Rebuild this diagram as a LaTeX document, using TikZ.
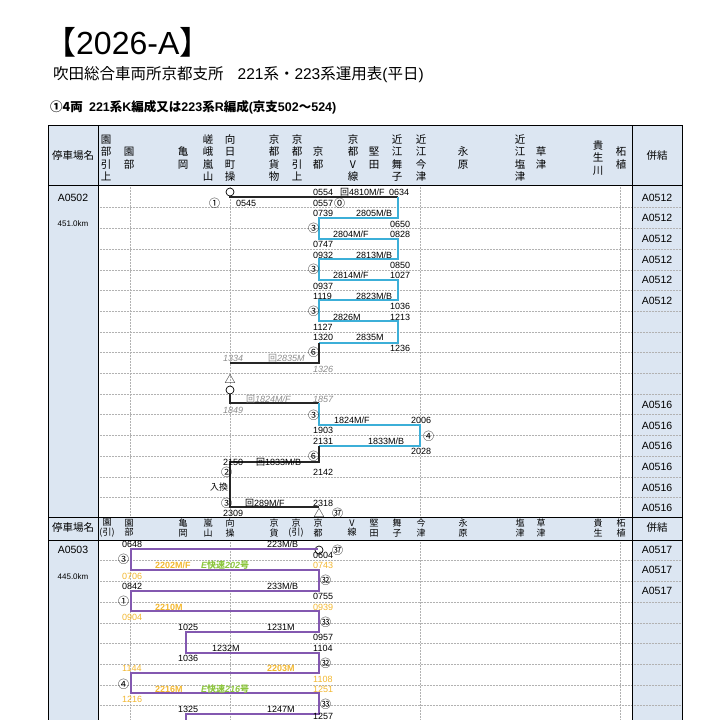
\documentclass[tikz,border=0pt]{standalone}
\usepackage{fontspec}
\setmainfont{Liberation Sans}
\newfontfamily\jp{Noto Sans CJK JP}
\definecolor{hdr}{HTML}{DCE6F2}
\definecolor{blu}{HTML}{3CAFD8}
\definecolor{pur}{HTML}{8358B0}
\definecolor{org}{HTML}{F2B730}
\definecolor{grn}{HTML}{8DC63F}
\definecolor{gry}{HTML}{8C8C8C}
\newcommand\Tx[3]{\node[lab] at (#1,#2) {#3};}
\newcommand\Gt[3]{\node[lab,gry,font=\fontsize{9}{9}\selectfont\itshape] at (#1,#2) {#3};}
\newcommand\Ot[3]{\node[lab,org] at (#1,#2) {#3};}
\newcommand\Ob[3]{\node[lab,org,font=\fontsize{9}{9}\selectfont\bfseries] at (#1,#2) {#3};}
\newcommand\Cc[3]{\node[lab,font=\jp\fontsize{11}{11}\selectfont] at (#1,#2) {#3};}
\newcommand\Sta[2]{\node[stn] at (#1,158) {#2};}
\newcommand\Stb[2]{\node[stn2] at (#1,528) {#2};}
\begin{document}
\begin{tikzpicture}[x=1pt,y=-1pt,
 lab/.style={anchor=west,inner sep=0,font=\fontsize{9}{9}\selectfont},
 stn/.style={align=center,inner sep=0,font=\jp\fontsize{10.5}{12.5}\selectfont},
 stn2/.style={align=center,inner sep=0,font=\jp\fontsize{9}{9.5}\selectfont},
 dot/.style={gray!60,densely dotted,line width=0.5pt},
 blk/.style={line width=1.1pt,black!85},
 bl/.style={line width=1.1pt,blu},
 pu/.style={line width=1.1pt,pur},
 ring/.style={circle,draw,line width=0.7pt,minimum size=8pt,inner sep=0,fill=white},
 side/.style={font=\fontsize{10.5}{11}\selectfont,inner sep=0}]
\useasboundingbox (0,0) rectangle (720,720);
\clip (0,0) rectangle (720,720);
% titles
\node[anchor=west,inner sep=0,font=\fontsize{32}{34}\selectfont] at (44,42) {{\jp【}2026-A{\jp】}};
\node[anchor=west,inner sep=0,font=\fontsize{15.5}{17}\selectfont] at (53,75) {{\jp 吹田総合車両所京都支所}\hspace{0.9em}221{\jp 系・}223{\jp 系運用表}({\jp 平日})};
\node[anchor=west,inner sep=0,font=\fontsize{12.5}{13}\selectfont\bfseries] at (50,107) {{\jp\bfseries ①4両}\hspace{0.5em}221{\jp\bfseries 系}K{\jp\bfseries 編成又は}223{\jp\bfseries 系}R{\jp\bfseries 編成}({\jp\bfseries 京支}502{\jp\bfseries 〜}524)};
% fills
\fill[hdr] (48,125) rectangle (682,185);
\fill[hdr] (48,185) rectangle (98,720);
\fill[hdr] (632,185) rectangle (682,720);
\fill[hdr] (48,517) rectangle (682,540);
% row dotted lines
\foreach \y in {207.7,228.4,249.1,269.8,290.5,311.2,331.9,352.6,373.3,394,414.7,435.4,456.1,476.8,497.5,560.7,581.4,602.1,622.8,643.5,664.2,684.9,705.6}
  \draw[dot] (98,\y) -- (682,\y);
\foreach \x in {130,230,420,620}{
  \draw[dot] (\x,185) -- (\x,517);
  \draw[dot] (\x,540) -- (\x,720);}
% borders
\draw[line width=0.8pt] (48,125) rectangle (682,720);
\draw[line width=0.8pt] (48,185) -- (682,185);
\draw[line width=0.8pt] (48,517) -- (682,517) (48,540) -- (682,540);
\draw[line width=0.8pt] (98,125) -- (98,720) (632,125) -- (632,720);
% header 1
\node[font=\jp\fontsize{10.5}{11}\selectfont,inner sep=0] at (73,156) {停車場名};
\node[font=\jp\fontsize{10.5}{11}\selectfont,inner sep=0] at (657,156) {併結};
\Sta{106}{園\\部\\引\\上}\Sta{129}{園\\部}\Sta{183}{亀\\岡}\Sta{208}{嵯\\峨\\嵐\\山}
\Sta{230}{向\\日\\町\\操}\Sta{274}{京\\都\\貨\\物}\Sta{297}{京\\都\\引\\上}\Sta{318}{京\\都}
\Sta{353}{京\\都\\V\\線}\Sta{374}{堅\\田}\Sta{397}{近\\江\\舞\\子}\Sta{421}{近\\江\\今\\津}
\Sta{463}{永\\原}\Sta{520}{近\\江\\塩\\津}\Sta{541}{草\\津}\Sta{598}{貴\\生\\川}\Sta{621}{柘\\植}
% header 2
\node[font=\jp\fontsize{10.5}{11}\selectfont,inner sep=0] at (73,528) {停車場名};
\node[font=\jp\fontsize{10.5}{11}\selectfont,inner sep=0] at (657,528) {併結};
\Stb{107}{園\\(引)}\Stb{129}{園\\部}\Stb{183}{亀\\岡}\Stb{208}{嵐\\山}\Stb{230}{向\\操}
\Stb{274}{京\\貨}\Stb{296}{京\\(引)}\Stb{318}{京\\都}\Stb{352}{V\\線}\Stb{374}{堅\\田}
\Stb{397}{舞\\子}\Stb{421}{今\\津}\Stb{463}{永\\原}\Stb{520}{塩\\津}\Stb{541}{草\\津}
\Stb{598}{貴\\生}\Stb{621}{柘\\植}
% side labels
\node[side] at (73,198) {A0502};
\node[side,font=\fontsize{8}{8}\selectfont] at (73,224) {451.0km};
\node[side] at (73,550) {A0503};
\node[side,font=\fontsize{8}{8}\selectfont] at (73,577) {445.0km};
\foreach \y in {198,218,239,260,280,301} \node[side] at (657,\y) {A0512};
\foreach \y in {405,426,446,467,488,508} \node[side] at (657,\y) {A0516};
\foreach \y in {550,570,591} \node[side] at (657,\y) {A0517};
% ---- A0502 lines
\node[ring] (c1) at (230,192) {};
\draw[blk] (c1.south) -- (230,197) -- (398,197);
\draw[bl] (398,197) -- (398,218) -- (319,218) -- (319,239) -- (398,239) -- (398,259) -- (319,259)
  -- (319,280) -- (398,280) -- (398,300) -- (319,300) -- (319,321) -- (398,321) -- (398,343) -- (319,343);
\draw[blk] (319,343) -- (319,363) -- (230,363);
\node[inner sep=0,font=\jp\fontsize{11}{11}\selectfont] (t1) at (230,379) {△};
\node[ring] (c2) at (230,390) {};
\draw[blk] (c2.south) -- (230,403) -- (319,403);
\draw[bl] (319,403) -- (319,425) -- (420,425) -- (420,446) -- (319,446);
\draw[blk] (319,446) -- (319,462) -- (230,462) -- (230,507) -- (319,507);
\node[inner sep=0,font=\jp\fontsize{11}{11}\selectfont] (t2) at (319,513) {△};
\Cc{332}{513}{㊲}
% A0502 texts
\Cc{209}{203}{①}\Tx{236}{203}{0545}
\Tx{313}{192}{0554}\node[lab,font=\fontsize{9}{9}\selectfont] at (340,192) {{\jp 回}4810M/F};\Tx{389}{192}{0634}
\Tx{313}{203}{0557}\Cc{334}{203}{⓪}
\Tx{313}{213}{0739}\Tx{356}{213}{2805M/B}
\Cc{308}{228}{③}\Tx{390}{224}{0650}\Tx{333}{234}{2804M/F}\Tx{390}{234}{0828}
\Tx{313}{244}{0747}\Tx{313}{255}{0932}\Tx{356}{255}{2813M/B}
\Cc{308}{269}{③}\Tx{390}{265}{0850}\Tx{333}{275}{2814M/F}\Tx{390}{275}{1027}
\Tx{313}{286}{0937}\Tx{313}{296}{1119}\Tx{356}{296}{2823M/B}
\Cc{308}{311}{③}\Tx{390}{306}{1036}\Tx{333}{317}{2826M}\Tx{390}{317}{1213}
\Tx{313}{327}{1127}\Tx{313}{337}{1320}\Tx{356}{337}{2835M}
\Cc{308}{352}{⑥}\Tx{390}{348}{1236}
\Gt{223}{358}{1334}\node[lab,gry,font=\fontsize{9}{9}\selectfont\itshape] at (268,358) {{\jp 回}2835M};\Gt{313}{369}{1326}
\node[lab,gry,font=\fontsize{9}{9}\selectfont\itshape] at (246,399) {{\jp 回}1824M/F};\Gt{313}{399}{1857}\Gt{223}{410}{1849}
\Cc{308}{415}{③}\Tx{334}{420}{1824M/F}\Tx{411}{420}{2006}
\Tx{313}{430}{1903}\Cc{423}{436}{④}\Tx{313}{441}{2131}\Tx{368}{441}{1833M/B}\Tx{411}{451}{2028}
\Cc{308}{456}{⑥}\Tx{223}{462}{2150}\node[lab,font=\fontsize{9}{9}\selectfont] at (256,462) {{\jp 回}1833M/B};
\Cc{221}{472}{②}\Tx{313}{472}{2142}
\node[lab,font=\jp\fontsize{9}{9}\selectfont] at (210,487) {入換};
\Cc{221}{503}{③}\node[lab,font=\fontsize{9}{9}\selectfont] at (245,503) {{\jp 回}289M/F};\Tx{313}{503}{2318}
\Tx{223}{513}{2309}
% ---- A0503 lines
\node[ring] (c3) at (319,550) {};
\Cc{332}{550}{㊲}
\draw[pu] (318,549) -- (131,549) -- (131,570) -- (319,570) -- (319,591) -- (131,591) -- (131,611)
  -- (319,611) -- (319,632) -- (186,632) -- (186,653) -- (319,653) -- (319,673) -- (131,673)
  -- (131,693) -- (319,693) -- (319,714) -- (186,714) -- (186,725);
% A0503 texts
\Tx{122}{544}{0648}\Tx{267}{544}{223M/B}
\Cc{118}{559}{③}\Tx{313}{555}{0604}\Ob{155}{565}{2202M/F}\node[lab,grn,font=\fontsize{9}{9}\selectfont\bfseries\itshape] at (201,565) {E{\jp\bfseries 快速}202{\jp\bfseries 号}};\Ot{313}{565}{0743}
\Ot{122}{576}{0706}\Cc{320}{580}{㉜}\Tx{122}{586}{0842}\Tx{267}{586}{233M/B}
\Tx{313}{596}{0755}\Cc{118}{601}{①}\Ob{155}{607}{2210M}\Ot{313}{607}{0939}
\Ot{122}{617}{0904}\Cc{320}{622}{㉝}\Tx{178}{627}{1025}\Tx{267}{627}{1231M}
\Tx{313}{637}{0957}\Tx{212}{648}{1232M}\Tx{313}{648}{1104}\Tx{178}{658}{1036}
\Ot{122}{668}{1144}\Ob{267}{668}{2203M}\Cc{320}{663}{㉜}
\Ot{313}{679}{1108}\Cc{118}{684}{④}\Ob{155}{689}{2216M}\node[lab,grn,font=\fontsize{9}{9}\selectfont\bfseries\itshape] at (201,689) {E{\jp\bfseries 快速}216{\jp\bfseries 号}};\Ot{313}{689}{1251}
\Ot{122}{699}{1216}\Cc{320}{704}{㉝}\Tx{178}{709}{1325}\Tx{267}{709}{1247M}
\Tx{313}{716}{1257}
\end{tikzpicture}
\end{document}
